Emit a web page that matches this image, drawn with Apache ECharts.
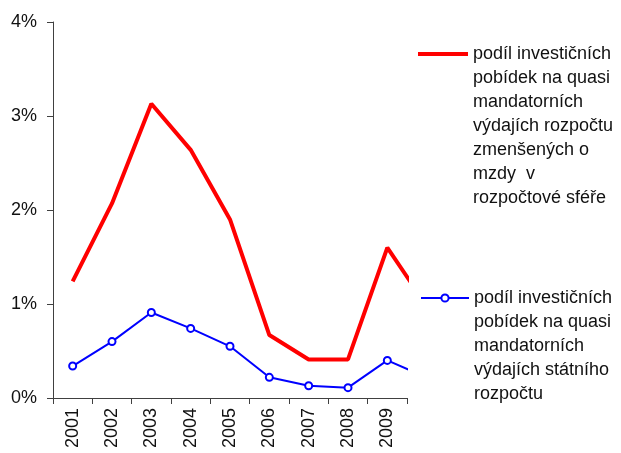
<!DOCTYPE html>
<html>
<head>
<meta charset="utf-8">
<script src="https://cdn.jsdelivr.net/npm/echarts@6/dist/echarts.min.js"></script>
<style>
  html, body { margin: 0; padding: 0; background: #fff; }
  #chart { width: 621px; height: 453px; }
</style>
</head>
<body>
<div id="chart"></div>
<script>
// roky (2010 je v originálu useknutý okrajem grafu)
var years = ['2001', '2002', '2003', '2004', '2005', '2006', '2007', '2008', '2009', '2010'];
// hodnoty v %
var podilRozpocet = [1.24, 2.07, 3.13, 2.64, 1.90, 0.67, 0.41, 0.41, 1.60, 0.98];
var podilStatni = [0.34, 0.60, 0.91, 0.74, 0.55, 0.22, 0.13, 0.11, 0.40, 0.22];
var yTicks = [0, 1, 2, 3, 4];

// texty legendy po řádcích
var nameRozpocet = ['podíl investičních', 'pobídek na quasi', 'mandatorních', 'výdajích rozpočtu', 'zmenšených o', 'mzdy  v', 'rozpočtové sféře'];
var nameStatni = ['podíl investičních', 'pobídek na quasi', 'mandatorních', 'výdajích státního', 'rozpočtu'];

var font = 'Liberation Sans, Arial, sans-serif';
var lineH = 24;

var chart = echarts.init(document.getElementById('chart'));

// legenda: text se centruje na ikonu, prázdné řádky nahoře posunou první řádek k ikoně
function legendFor(lines, left, iconY, width, height, icon) {
  var blank = new Array(lines.length).join('\n');
  var half = (2 * lines.length - 1) * lineH / 2;
  var leg = {
    data: [lines.join(' ')],
    left: left,
    top: iconY - half,
    padding: 0,
    itemWidth: width,
    itemHeight: height,
    itemGap: 0,
    formatter: function () { return blank + lines.join('\n'); },
    textStyle: {
      fontFamily: font,
      fontSize: 18,
      color: '#111',
      lineHeight: lineH
    }
  };
  if (icon) leg.icon = icon;
  return leg;
}

var option = {
  animation: false,
  backgroundColor: '#fff',
  grid: { left: 53, top: 22, right: 214, bottom: 55, containLabel: false },
  legend: [
    legendFor(nameRozpocet, 418, 54, 50, 4, 'rect'),
    legendFor(nameStatni, 420, 298, 48, 9)
  ],
  xAxis: {
    type: 'category',
    data: years,
    max: 8,
    boundaryGap: true,
    axisLine: { lineStyle: { color: '#404040', width: 1 } },
    axisTick: { show: true, length: 6, lineStyle: { color: '#404040' } },
    axisLabel: {
      rotate: 90,
      interval: 0,
      margin: 10,
      fontFamily: font,
      fontSize: 18,
      color: '#111'
    },
    splitLine: { show: false }
  },
  yAxis: {
    type: 'value',
    min: yTicks[0],
    max: yTicks[yTicks.length - 1],
    interval: 1,
    axisLine: { show: true, lineStyle: { color: '#404040', width: 1 } },
    axisTick: { show: true, length: 6, lineStyle: { color: '#404040' } },
    axisLabel: {
      margin: 16,
      fontFamily: font,
      fontSize: 18,
      color: '#111',
      formatter: '{value}%'
    },
    splitLine: { show: false }
  },
  series: [
    {
      name: nameRozpocet.join(' '),
      type: 'line',
      data: podilRozpocet,
      symbol: 'none',
      clip: true,
      lineStyle: { color: '#ff0000', width: 4 },
      itemStyle: { color: '#ff0000' }
    },
    {
      name: nameStatni.join(' '),
      type: 'line',
      data: podilStatni,
      symbol: 'emptyCircle',
      symbolSize: 7,
      clip: true,
      lineStyle: { color: '#0000ff', width: 2 },
      itemStyle: { color: '#0000ff', borderWidth: 2 }
    }
  ]
};

chart.setOption(option);
</script>
</body>
</html>
